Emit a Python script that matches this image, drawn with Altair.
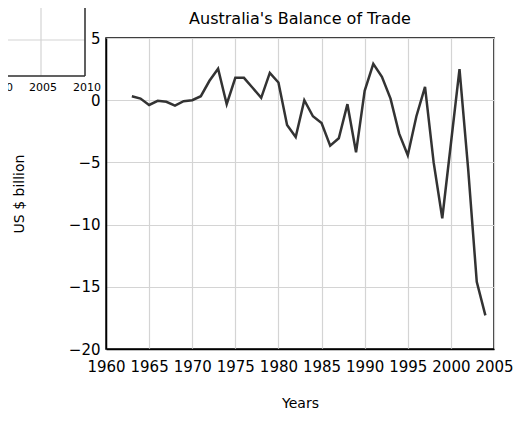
import altair as alt
import pandas as pd

# Main series: Australia's balance of trade (US $ billion)
years = list(range(1963, 2005))
balance = [0.32, 0.13, -0.38, -0.05, -0.13, -0.43, -0.08, 0.0, 0.32, 1.56,
           2.53, -0.32, 1.8, 1.8, 1.0, 0.19, 2.2, 1.42, -2.0, -2.96,
           0.0, -1.29, -1.83, -3.66, -3.06, -0.32, -4.19, 0.75, 2.93, 1.88,
           0.13, -2.69, -4.43, -1.29, 1.07, -5.0, -9.49, -3.5, 2.5, -5.5,
           -14.6, -17.3]
x_ticks = [1960, 1965, 1970, 1975, 1980, 1985, 1990, 1995, 2000, 2005]
y_ticks = [-20, -15, -10, -5, 0, 5]

# Partially visible neighbouring panel (top-left corner)
inset_years = [1999.5, 2000.85, 2001.0, 2001.8, 2002.1, 2002.5]
inset_values = [37.4, 37.4, 40.0, 40.4, 42.2, 44.0]
inset_x_ticks = [2000, 2005, 2010]
inset_y_ticks = [0, 20, 40]
inset_x_domain = [2000, 2010]
inset_y_domain = [0, 42]

FONT = "DejaVu Sans"
GRID = "#d4d4d4"
DARK = "#333333"

df = pd.DataFrame({"year": years, "value": balance})
inset_df = pd.DataFrame({"year": inset_years, "value": inset_values})
ix_df = pd.DataFrame({"year": inset_x_ticks})
iy_df = pd.DataFrame({"value": inset_y_ticks})

main = alt.Chart(df).mark_line(color=DARK, strokeWidth=2.5).encode(
    x=alt.X("year:Q",
            scale=alt.Scale(domain=[1960, 2005], nice=False, zero=False),
            axis=alt.Axis(orient="bottom", values=x_ticks, format="d", title="Years",
                          grid=True, ticks=False, labelFlush=False, labelPadding=10,
                          labelFontSize=15, titlePadding=22,
                          titleFontSize=14, titleFontWeight="normal",
                          domainColor="black", domainWidth=1.5, gridColor=GRID,
                          gridWidth=1.2, labelColor="black", titleColor="black")),
    y=alt.Y("value:Q",
            scale=alt.Scale(domain=[-20, 5], nice=False, zero=False),
            axis=alt.Axis(orient="left", values=y_ticks, title="US $ billion", grid=True,
                          ticks=False, labelFlush=False, labelPadding=6,
                          labelFontSize=15, titlePadding=42, titleFontSize=14,
                          titleFontWeight="normal", domainColor="black",
                          domainWidth=1.5, gridColor=GRID, gridWidth=1.2,
                          labelColor="black", titleColor="black")),
)

xs = alt.Scale(domain=inset_x_domain, range=[-109, -21], nice=False, zero=False)
ys = alt.Scale(domain=inset_y_domain, range=[38, -37.6], nice=False, zero=False)

i_vgrid = alt.Chart(ix_df).mark_rule(color=GRID, strokeWidth=1.2).encode(
    x=alt.X("year:Q", scale=xs, axis=None),
    y=alt.YDatum(inset_y_domain[0], scale=ys, axis=None),
    y2=alt.Y2Datum(inset_y_domain[1]),
)
i_hgrid = alt.Chart(iy_df).mark_rule(color=GRID, strokeWidth=1.2).encode(
    y=alt.Y("value:Q", scale=ys, axis=None),
    x=alt.XDatum(inset_x_domain[0], scale=xs, axis=None),
    x2=alt.X2Datum(inset_x_domain[1]),
)
i_frame_right = alt.Chart(pd.DataFrame({"year": [inset_x_domain[1]]})).mark_rule(
    color=DARK, strokeWidth=1.5).encode(
    x=alt.X("year:Q", scale=xs, axis=None),
    y=alt.YDatum(inset_y_domain[0], scale=ys, axis=None),
    y2=alt.Y2Datum(inset_y_domain[1]),
)
i_frame_bottom = alt.Chart(pd.DataFrame({"value": [inset_y_domain[0]]})).mark_rule(
    color=DARK, strokeWidth=1.5).encode(
    y=alt.Y("value:Q", scale=ys, axis=None),
    x=alt.XDatum(inset_x_domain[0], scale=xs, axis=None),
    x2=alt.X2Datum(inset_x_domain[1]),
)
i_line = alt.Chart(inset_df).mark_line(color=DARK, strokeWidth=2).encode(
    x=alt.X("year:Q", scale=xs, axis=None),
    y=alt.Y("value:Q", scale=ys, axis=None),
)
i_labels = alt.Chart(ix_df).mark_text(
    fontSize=11, font=FONT, color="black", dy=12, dx=2, baseline="middle").encode(
    x=alt.X("year:Q", scale=xs, axis=None),
    y=alt.YDatum(inset_y_domain[0], scale=ys, axis=None),
    text=alt.Text("year:Q", format="d"),
)

inset = alt.layer(i_vgrid, i_hgrid, i_line, i_frame_right, i_frame_bottom, i_labels)

chart = alt.layer(inset, main).resolve_scale(
    x="independent", y="independent"
).properties(
    width=388,
    height=311,
    autosize=alt.AutoSizeParams(type="none"),
    padding={"left": 98, "top": 30, "right": 20, "bottom": 64},
    title=alt.TitleParams("Australia's Balance of Trade", fontSize=16,
                          fontWeight="normal", frame="group", anchor="middle",
                          offset=-34, color="black", font=FONT),
).configure_view(
    stroke="black", strokeWidth=1.5
).configure_axis(
    labelFont=FONT, titleFont=FONT
)

chart.save("out.html", embed_options={"renderer": "svg", "actions": False})
